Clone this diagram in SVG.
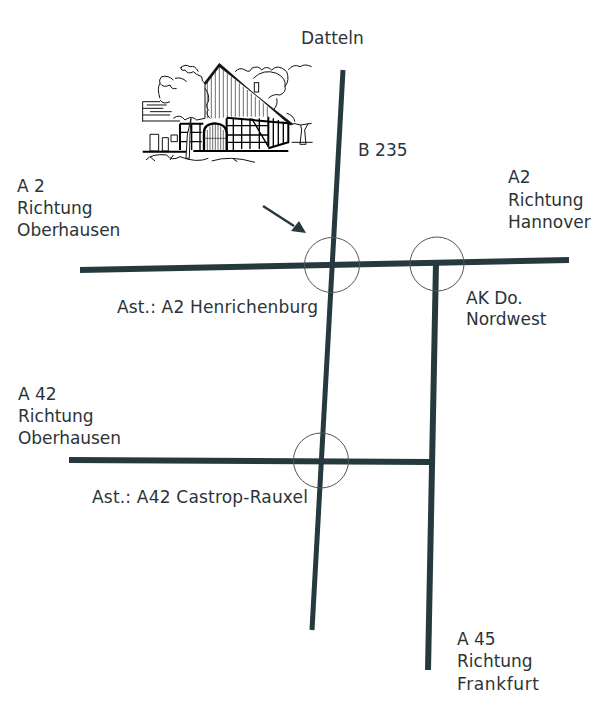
<svg xmlns="http://www.w3.org/2000/svg" width="600" height="703" viewBox="0 0 600 703">
<style>
text{font-family:"DejaVu Sans","Noto Sans",sans-serif;font-size:17px;fill:#2b3438}
.road{stroke:#26393f;fill:none}
.ring{stroke:#555;stroke-width:1;fill:none}
.ink{fill:none;stroke:#111;stroke-width:3}
.thin{fill:none;stroke:#222;stroke-width:2}
.bold{fill:none;stroke:#000;stroke-width:6}
</style>
<rect width="600" height="703" fill="#fff"/>
<g id="house" transform="translate(130 55) scale(.3333)">
<path class="ink" d="M225 85Q215 80 215 65Q200 60 190 50Q175 60 165 45Q150 50 155 35M150 40Q165 25 180 35Q195 30 205 50M130 75Q115 60 95 65Q85 75 90 85Q100 100 120 90Q125 105 140 100M135 70Q155 65 170 80M90 85Q80 100 90 130M120 140Q100 150 90 135M225 100Q240 120 235 140Q225 150 235 165Q225 175 240 190M130 190Q150 175 165 195Q185 180 200 195L225 190"/>
<path class="ink" d="M315 50Q330 35 345 45Q360 55 365 40Q385 30 395 45Q410 30 425 45Q445 25 470 50Q480 75 465 95Q470 110 450 120Q430 115 415 130M370 70Q400 40 440 55Q470 70 465 95M475 45Q490 25 510 35Q525 25 545 35M440 130Q445 150 430 165M470 175Q490 180 495 200"/>
<path d="M268 25L222 85L228 88L268 35L490 208L480 210L268 25Z" fill="#111" stroke="#111" stroke-width="2"/>
<path class="thin" d="M268 33V190M256 45V190M244 60V190M232 76V190M280 45V188M292 55V186M304 65V185M316 75V185M328 85V185M340 95V185M352 105V185M364 115V185M376 125V185M388 135V185M400 145V185M412 155V185"/>
<path class="ink" d="M225 85V190"/>
<rect x="373" y="83" width="13" height="28" fill="#fff" stroke="#111" stroke-width="3"/>
<path class="bold" d="M150 206H220M290 188L475 205M415 185V275M475 205V265M150 206V285M290 190V285M415 280L475 262"/>
<path class="bold" style="stroke-width:4" d="M310 190V285M335 190V282M360 190V282M388 190V282M292 212L415 212M292 240H415M292 262H415M430 190V275M445 195V270M460 200V267M365 190L415 275M185 206V285M210 206V285M150 232H215M150 260H215"/>
<path d="M222 290V232Q222 207 255 205Q288 207 290 232V290" fill="#fff" stroke="#000" stroke-width="7"/>
<path class="thin" d="M232 225V288M240 215V288M248 210V288M256 208V288M264 210V288M272 215V288M280 225V288M222 250H290"/>
<path class="ink" d="M38 140H90M38 140V200M38 160H100M38 180H120M50 150H110M60 170H125M38 198H150"/>
<path class="ink" d="M60 238H86V288H60ZM97 248H115V288H97ZM123 240H142V260H123Z"/>
<path class="bold" d="M38 290H170M190 288H475"/>
<path d="M183 190L172 240L168 310H178L180 240Z" fill="#fff" stroke="#111" stroke-width="3"/>
<path class="ink" d="M490 205L512 210L545 205M512 210L515 225L510 268H528L524 225L535 205M485 262H548"/>
<path class="ink" d="M48 315Q65 295 110 300Q125 320 150 305Q200 325 235 310M245 318Q300 300 375 322M60 305L75 318M130 300L120 315M310 312L322 320"/>
</g>
<g id="connectors">
<path class="road" stroke-width="5" d="M343 70L312 630"/>
<path class="road" stroke-width="6" d="M80 270L569 260"/>
<path class="road" stroke-width="6" d="M436 263L428 670"/>
<path class="road" stroke-width="6" d="M69 460L431 462"/>
<path class="road" stroke-width="2.5" d="M263 206L294 226"/>
<path d="M306 233L291 231L299 221Z" fill="#26393f"/>
</g>
<g id="interchange-henrichenburg"><circle class="ring" cx="332" cy="265" r="27.5"/></g>
<g id="interchange-nordwest"><circle class="ring" cx="437" cy="264" r="27"/></g>
<g id="interchange-castrop"><circle class="ring" cx="321" cy="460.500" r="27.500"/></g>
<g id="labels">
<text x="301" y="44">Datteln</text>
<text x="358" y="156">B 235</text>
<text x="17" y="192">A 2</text><text x="17" y="214">Richtung</text><text x="17" y="236">Oberhausen</text>
<text x="508" y="183">A2</text><text x="508" y="206">Richtung</text><text x="508" y="228">Hannover</text>
<text x="117" y="313" textLength="201">Ast.: A2 Henrichenburg</text>
<text x="466" y="304">AK Do.</text><text x="466" y="325">Nordwest</text>
<text x="18" y="400">A 42</text><text x="18" y="422">Richtung</text><text x="18" y="444" textLength="103">Oberhausen</text>
<text x="92" y="503" textLength="216">Ast.: A42 Castrop-Rauxel</text>
<text x="457" y="645">A 45</text><text x="457" y="667">Richtung</text><text x="457" y="690" textLength="82">Frankfurt</text>
</g>
</svg>
